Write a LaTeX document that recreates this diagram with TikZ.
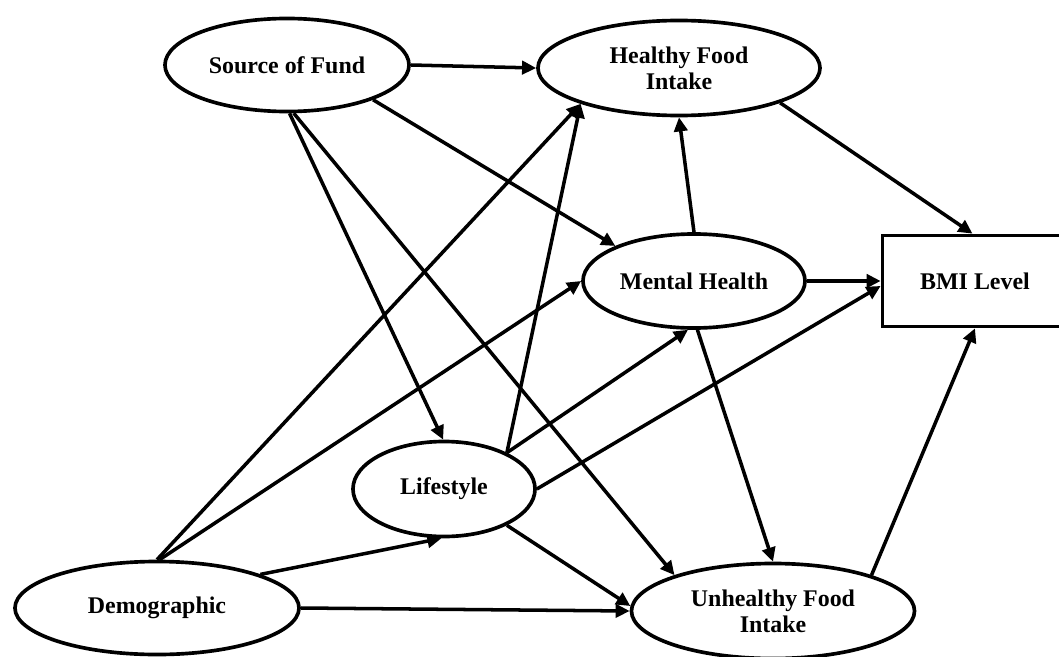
\documentclass[tikz,border=0pt]{standalone}
\usepackage{fontspec}
\setmainfont{Liberation Serif}
\usetikzlibrary{shapes.geometric, arrows.meta}

\begin{document}
\begin{tikzpicture}[x=0.025cm, y=-0.025cm,
  construct/.style={draw=black, ellipse, line width=2.6pt, inner sep=0pt, align=center, font=\bfseries\fontsize{17}{18.5}\selectfont},
  outcome/.style={draw=black, rectangle, line width=2.6pt, inner sep=0pt, font=\bfseries\fontsize{17}{18.5}\selectfont},
  effect/.style={line width=2.5pt, -{Triangle[length=10pt, width=9.5pt]}}]
\useasboundingbox (0,0) rectangle (1059,657);
\clip (0,0) rectangle (1059,657);

\node[construct, minimum width=6.1cm, minimum height=2.325cm] (src) at (287,65) {Source of Fund};
\node[construct, minimum width=7.05cm, minimum height=2.375cm] (healthy) at (679,68) {Healthy Food\\Intake};
\node[construct, minimum width=5.55cm, minimum height=2.35cm] (mh) at (694,281) {Mental Health};
\node[outcome, minimum width=4.625cm, minimum height=2.275cm] (bmi) at (975,281) {BMI Level};
\node[construct, minimum width=4.55cm, minimum height=2.375cm] (life) at (444,489) {Lifestyle};
\node[construct, minimum width=7.1cm, minimum height=2.325cm] (demo) at (157,608) {Demographic};
\node[construct, minimum width=7.075cm, minimum height=2.375cm] (unh) at (773,611) {Unhealthy Food\\Intake};

\path (src.east) edge[effect] (healthy.west);
\path (src.-22) edge[effect] (mh.156);
\path (src.-87) edge[effect] (life.91);
\path (src.-82) edge[effect] (unh.160);

\path (demo.90) edge[effect] (healthy.200);
\path (demo.87) edge[effect] (mh.west);
\path (demo.18) edge[effect] (life.-93);
\path (demo.east) edge[effect] (unh.west);

\path (life.30) edge[effect] (healthy.200);
\path (life.30) edge[effect] (mh.-97);
\path (life.east) edge[effect] (bmi.183);
\path (life.-30) edge[effect] (unh.178);

\path (mh.north) edge[effect] (healthy.south);
\path (mh.east) edge[effect] (bmi.west);
\path (mh.-86) edge[effect] (unh.north);

\path (healthy.-19) edge[effect] (bmi.93);
\path (unh.20) edge[effect] (bmi.south);
\end{tikzpicture}
\end{document}
